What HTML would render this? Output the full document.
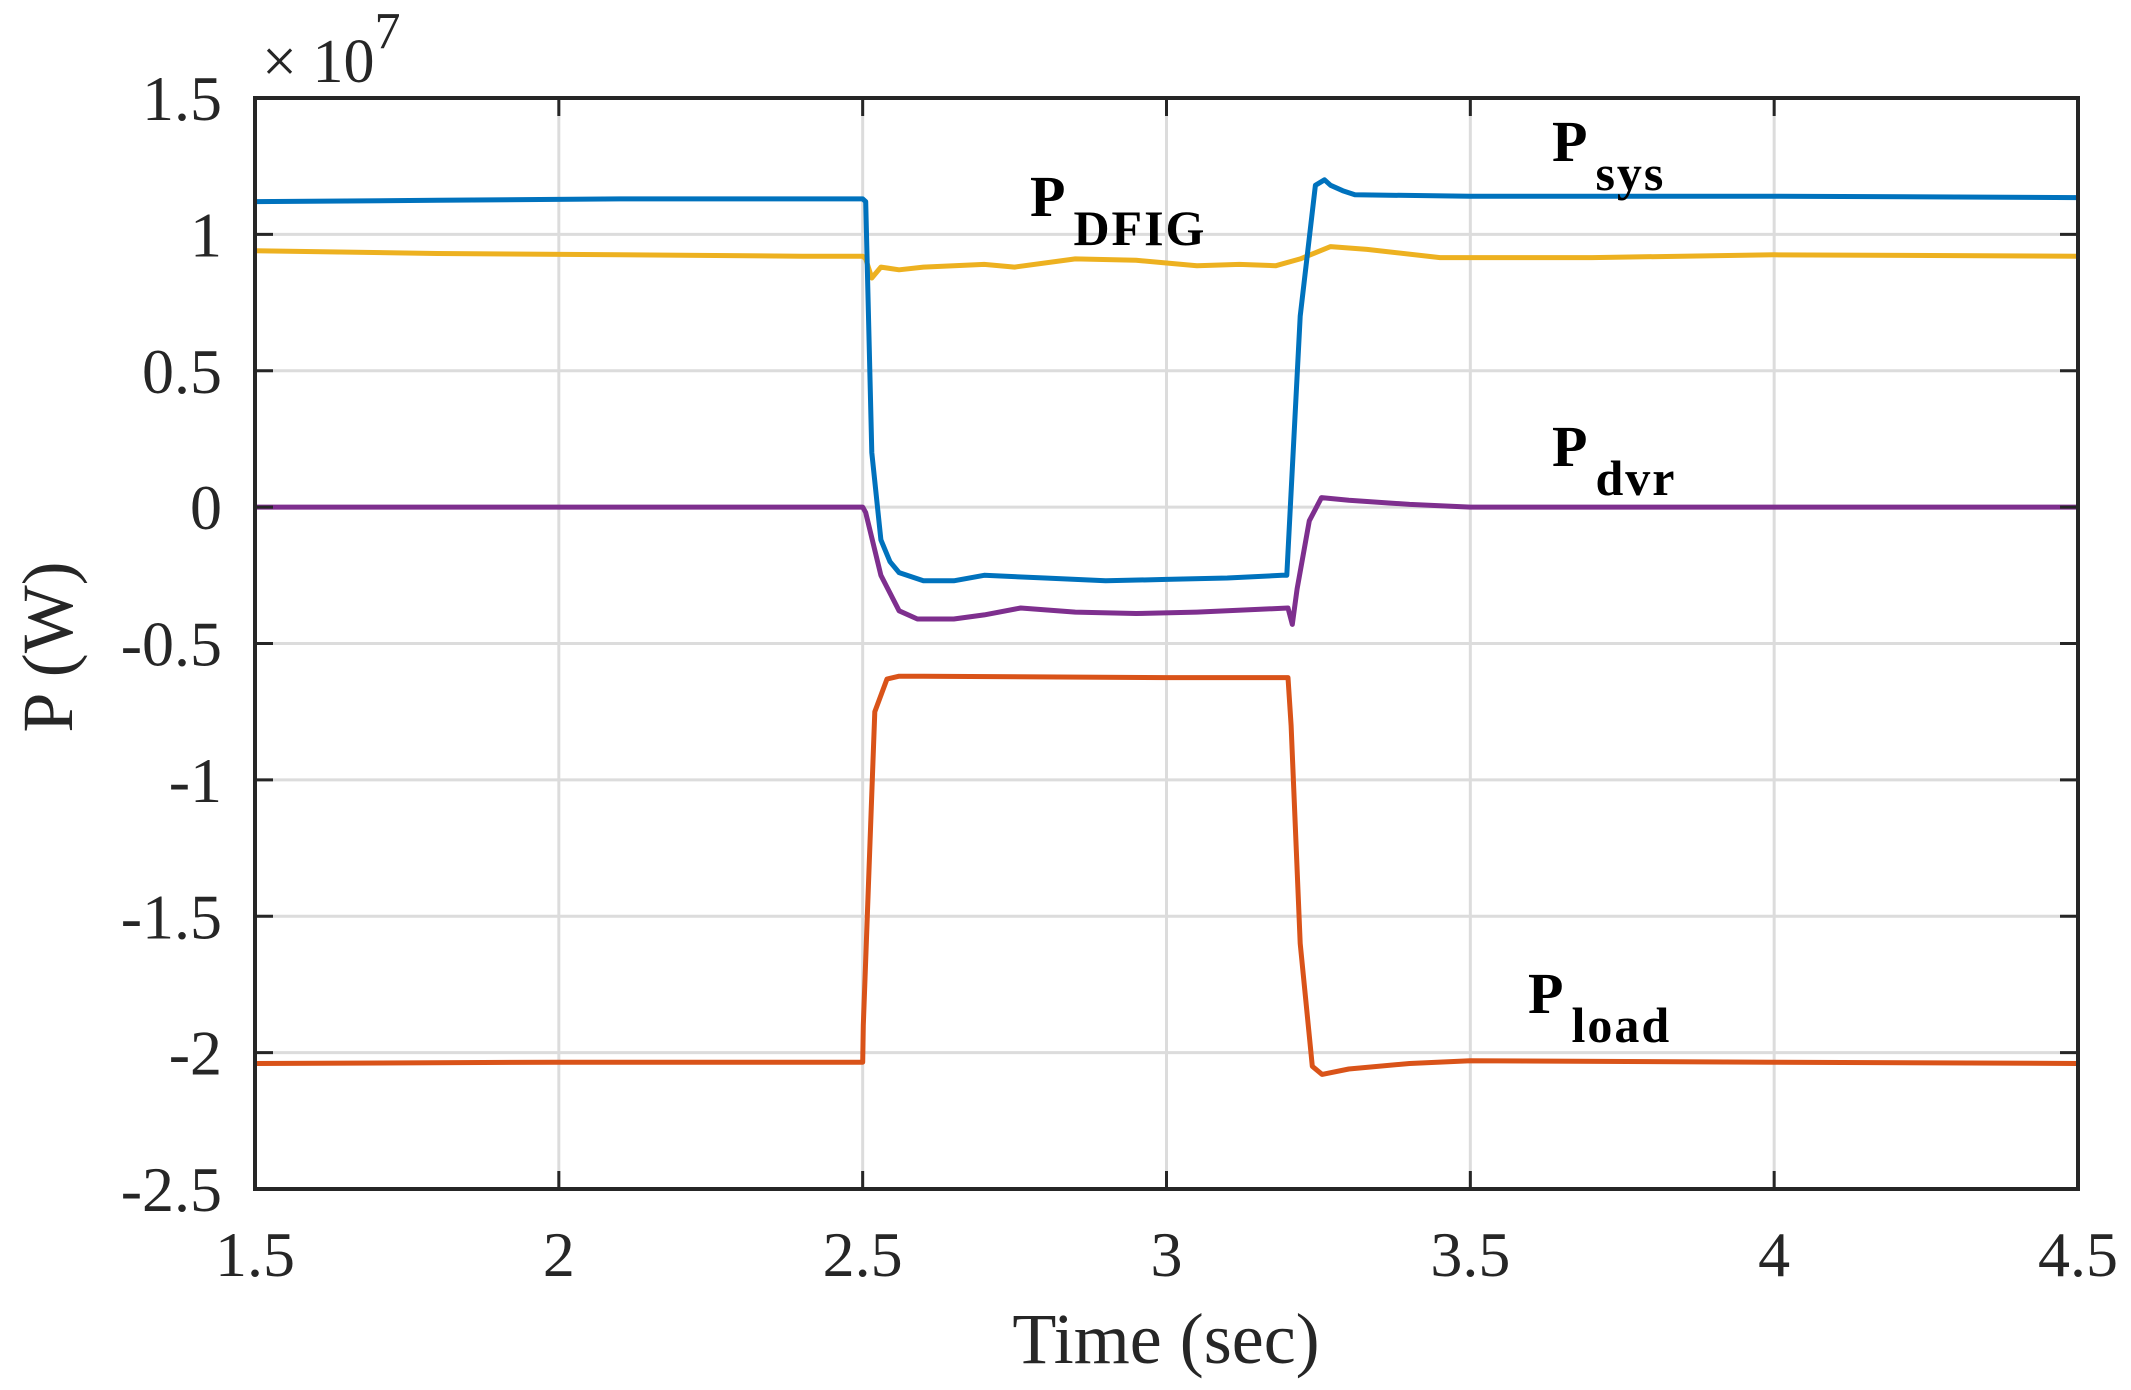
<!DOCTYPE html>
<html><head><meta charset="utf-8"><style>
html,body{margin:0;padding:0;background:#fff;}
svg{display:block;font-family:"Liberation Serif",serif;}
</style></head><body>
<svg id="chart" width="2131" height="1390" viewBox="0 0 2131 1390" xmlns="http://www.w3.org/2000/svg">
<rect x="0" y="0" width="2131" height="1390" fill="#fff"/>
<g id="grid"></g>
<g id="series"></g>
<g id="axes"></g>
<g id="labels"></g>
</svg>
<script>
const xTicks=[1.5,2,2.5,3,3.5,4,4.5];
const xTickLabels=["1.5","2","2.5","3","3.5","4","4.5"];
const yTicks=[1.5,1,0.5,0,-0.5,-1,-1.5,-2,-2.5];
const yTickLabels=["1.5","1","0.5","0","-0.5","-1","-1.5","-2","-2.5"];
const sysT=[1.5,1.8,2.1,2.4,2.5,2.505,2.515,2.53,2.545,2.56,2.6,2.65,2.7,2.8,2.9,3.0,3.1,3.19,3.198,3.22,3.245,3.26,3.27,3.29,3.31,3.5,4.0,4.5];
const sysV=[1.12,1.125,1.13,1.13,1.13,1.12,0.2,-0.12,-0.2,-0.24,-0.27,-0.27,-0.25,-0.26,-0.27,-0.265,-0.26,-0.25,-0.25,0.7,1.18,1.2,1.18,1.16,1.145,1.14,1.14,1.135];
const dfigT=[1.5,1.8,2.1,2.4,2.5,2.505,2.515,2.53,2.56,2.6,2.7,2.75,2.85,2.95,3.0,3.05,3.12,3.18,3.22,3.27,3.33,3.45,3.7,4.0,4.5];
const dfigV=[0.94,0.93,0.925,0.92,0.92,0.91,0.84,0.88,0.87,0.88,0.89,0.88,0.91,0.905,0.895,0.885,0.89,0.885,0.91,0.955,0.945,0.915,0.915,0.925,0.92];
const dvrT=[1.5,2.0,2.5,2.505,2.53,2.56,2.59,2.65,2.7,2.76,2.85,2.95,3.05,3.15,3.2,3.207,3.215,3.235,3.255,3.3,3.4,3.5,4.0,4.5];
const dvrV=[0,0,0,-0.02,-0.25,-0.38,-0.41,-0.41,-0.395,-0.37,-0.385,-0.39,-0.385,-0.375,-0.37,-0.43,-0.3,-0.05,0.035,0.025,0.01,0.0,0.0,0.0];
const loadT=[1.5,2.0,2.5,2.501,2.52,2.54,2.56,2.6,3.0,3.2,3.205,3.22,3.24,3.256,3.3,3.4,3.5,4.0,4.5];
const loadV=[-2.04,-2.035,-2.035,-1.9,-0.75,-0.63,-0.62,-0.62,-0.625,-0.625,-0.8,-1.6,-2.05,-2.08,-2.06,-2.04,-2.03,-2.035,-2.04];

const L=255,R=2078,T=98,B=1189;
const xMin=1.5,xMax=4.5,yMin=-2.5,yMax=1.5;
const sx=t=>L+(t-xMin)/(xMax-xMin)*(R-L);
const sy=v=>B-(v-yMin)/(yMax-yMin)*(B-T);
const NS="http://www.w3.org/2000/svg";
function mk(tag,parent,attrs){const e=document.createElementNS(NS,tag);for(const k in attrs)e.setAttribute(k,attrs[k]);parent.appendChild(e);return e;}
const grid=document.getElementById('grid'),axes=document.getElementById('axes'),ser=document.getElementById('series'),lab=document.getElementById('labels');

xTicks.forEach((t,i)=>{
  const g=mk('line',grid,{x1:sx(t),x2:sx(t),y1:T,y2:B,stroke:'#dcdcdc','stroke-width':3});
  
  
  const tk1=mk('line',axes,{x1:sx(t),x2:sx(t),y1:B,y2:B-18,stroke:'#262626','stroke-width':3});
  
  
  const tk2=mk('line',axes,{x1:sx(t),x2:sx(t),y1:T,y2:T+18,stroke:'#262626','stroke-width':3});
  
  
  const tx=mk('text',lab,{x:sx(t),y:1276,'text-anchor':'middle','font-size':64,fill:'#262626'});
  tx.textContent=xTickLabels[i];
  
  
});
yTicks.forEach((v,i)=>{
  const g=mk('line',grid,{x1:L,x2:R,y1:sy(v),y2:sy(v),stroke:'#dcdcdc','stroke-width':3});
  
  
  const tk1=mk('line',axes,{x1:L,x2:L+18,y1:sy(v),y2:sy(v),stroke:'#262626','stroke-width':3});
  
  
  const tk2=mk('line',axes,{x1:R,x2:R-18,y1:sy(v),y2:sy(v),stroke:'#262626','stroke-width':3});
  
  
  const tx=mk('text',lab,{x:222,y:sy(v)+22,'text-anchor':'end','font-size':64,fill:'#262626'});
  tx.textContent=yTickLabels[i];
  
  
});
const box=mk('rect',axes,{x:L,y:T,width:R-L,height:B-T,fill:'none',stroke:'#262626','stroke-width':4});



function line(ts,vs,color,name){
  const p=mk('polyline',ser,{points:ts.map((t,i)=>sx(t).toFixed(1)+','+sy(vs[i]).toFixed(1)).join(' '),fill:'none',stroke:color,'stroke-width':5,'stroke-linejoin':'round'});
  
  
}
line(loadT,loadV,'#D95319','p-load-line');
line(dfigT,dfigV,'#EDB120','p-dfig-line');
line(dvrT,dvrV,'#7E2F8E','p-dvr-line');
line(sysT,sysV,'#0072BD','p-sys-line');

function ann(x,y,sub,name){
  const t=mk('text',lab,{x:x,y:y,'font-size':58,fill:'#000','font-weight':'bold'});
  
  
  const a=mk('tspan',t,{});a.textContent='P';
  const b=mk('tspan',t,{'font-size':50,dy:29,dx:8,'letter-spacing':2});b.textContent=sub;
}
ann(1030,216,'DFIG','label-p-dfig');
ann(1552,161,'sys','label-p-sys');
ann(1552,466,'dvr','label-p-dvr');
ann(1528,1013,'load','label-p-load');

const ex=mk('text',lab,{x:262,y:82,'font-size':62,fill:'#262626'});


const e1=mk('tspan',ex,{});e1.textContent='\u00d7 10';
const e2=mk('tspan',ex,{'font-size':52,dy:-34});e2.textContent='7';

const xl=mk('text',lab,{x:1166,y:1363,'text-anchor':'middle','font-size':72,fill:'#262626'});
xl.textContent='Time (sec)';


const yl=mk('text',lab,{x:72,y:647,'text-anchor':'middle','font-size':72,fill:'#262626',transform:'rotate(-90 72 647)'});
yl.textContent='P (W)';


</script>
</body></html>
